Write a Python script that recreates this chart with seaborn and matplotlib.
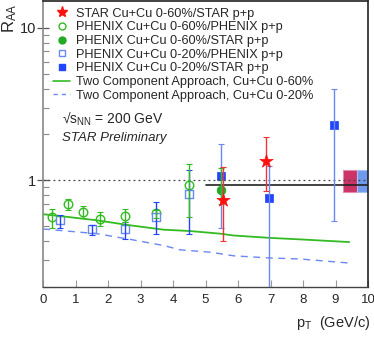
import matplotlib
matplotlib.use('Agg')
import matplotlib.pyplot as plt
import pandas as pd
import seaborn as sns
from matplotlib.lines import Line2D
from matplotlib.patches import Rectangle
from matplotlib.ticker import FixedLocator, NullFormatter

# PHENIX Cu+Cu 0-60% / PHENIX p+p (open circles)
ph60_pt = [0.27, 0.78, 1.24, 1.76, 2.51, 3.49, 4.49]
ph60_val = [0.575, 0.695, 0.62, 0.558, 0.58, 0.607, 0.93]
ph60_lo = [0.49, 0.64, 0.57, 0.50, 0.53, 0.57, 0.575]
ph60_hi = [0.65, 0.76, 0.68, 0.62, 0.645, 0.64, 1.28]

# PHENIX Cu+Cu 0-20% / PHENIX p+p (open squares)
ph20_pt = [0.52, 1.5, 2.51, 3.49, 4.49]
ph20_val = [0.55, 0.48, 0.48, 0.575, 0.815]
ph20_lo = [0.49, 0.44, 0.414, 0.447, 0.447]
ph20_hi = [0.596, 0.506, 0.533, 0.72, 1.17]

# STAR Cu+Cu 0-60% / STAR p+p (stars)
star_pt = [5.55, 6.85]
star_val = [0.74, 1.33]
star_lo = [0.40, 0.855]
star_hi = [1.22, 1.92]

# PHENIX Cu+Cu 0-60% / STAR p+p (filled circle)
ph60s_pt = [5.47]
ph60s_val = [0.86]
ph60s_lo = [0.70]
ph60s_hi = [1.21]

# PHENIX Cu+Cu 0-20% / STAR p+p (filled squares)
ph20s_pt = [5.47, 6.96, 8.95]
ph20s_val = [1.07, 0.77, 2.30]
ph20s_lo = [0.49, 0.10, 0.54]
ph20s_hi = [1.72, 1.25, 3.98]

# Two component approach curves
tc60_pt = [0, 0.63, 1.66, 2.69, 3.71, 4.54, 5.46, 5.87, 6.95, 7.93, 9.42]
tc60_val = [0.60, 0.58, 0.547, 0.507, 0.475, 0.465, 0.447, 0.435, 0.42, 0.41, 0.394]
tc20_pt = [0, 1.66, 2.69, 3.71, 4.23, 5.15, 5.87, 6.95, 7.93, 9.42]
tc20_val = [0.48, 0.447, 0.41, 0.374, 0.35, 0.338, 0.32, 0.31, 0.305, 0.287]

# scale uncertainties / reference line
ref_level = 0.935
ref_x = [5.0, 10.0]
box_lo, box_hi = 0.84, 1.17
box_red_x = [9.24, 9.66]
box_blue_x = [9.66, 10.0]

RED = '#ff1010'
GREEN = '#33bb22'
BLUE = '#2244ff'
LBLUE = '#6a88f0'

sns.set_theme(style='ticks')
plt.rcParams['font.family'] = ['Liberation Sans', 'DejaVu Sans']
plt.rcParams['mathtext.fontset'] = 'custom'
plt.rcParams['mathtext.rm'] = 'Liberation Sans'
plt.rcParams['mathtext.it'] = 'Liberation Sans:italic'

fig = plt.figure(figsize=(3.74, 3.38), dpi=100)
ax = fig.add_axes([0.115, 0.151, 0.869, 0.846])
ax.set_yscale('log')
ax.set_xlim(0, 10)
ax.set_ylim(0.2, 15)

# reference lines and boxes
ax.axhline(1.0, color='#444444', lw=0.9, ls=(0, (1.5, 2.5)))
ax.plot(ref_x, [ref_level, ref_level], color='#222222', lw=1.2)
ax.add_patch(Rectangle((box_red_x[0], box_lo), box_red_x[1] - box_red_x[0], box_hi - box_lo,
                       facecolor='#cc3366', edgecolor='#e88aa8', lw=0.8))
ax.add_patch(Rectangle((box_blue_x[0], box_lo), box_blue_x[1] - box_blue_x[0], box_hi - box_lo,
                       facecolor='#6f9af0', edgecolor='#a8c0f5', lw=0.8))

# curves
curves = pd.concat([
    pd.DataFrame({'pt': tc60_pt, 'raa': tc60_val, 'set': '60'}),
    pd.DataFrame({'pt': tc20_pt, 'raa': tc20_val, 'set': '20'}),
])
sns.lineplot(data=curves[curves['set'] == '60'], x='pt', y='raa', color=GREEN, lw=1.3, ax=ax)
sns.lineplot(data=curves[curves['set'] == '20'], x='pt', y='raa', color=LBLUE, lw=1.0, ax=ax,
             dashes=False, linestyle=(0, (5, 4)))


def err(ax, pt, val, lo, hi, color):
    yerr = [[v - l for v, l in zip(val, lo)], [h - v for v, h in zip(val, hi)]]
    ax.errorbar(pt, val, yerr=yerr, fmt='none', ecolor=color, elinewidth=1.0, capsize=2, capthick=0.8)


err(ax, ph20_pt, ph20_val, ph20_lo, ph20_hi, BLUE)
err(ax, ph60_pt, ph60_val, ph60_lo, ph60_hi, GREEN)
err(ax, ph20s_pt, ph20s_val, ph20s_lo, ph20s_hi, LBLUE)
err(ax, ph60s_pt, ph60s_val, ph60s_lo, ph60s_hi, GREEN)
err(ax, star_pt, star_val, star_lo, star_hi, '#ee3333')

sns.scatterplot(x=ph60_pt, y=ph60_val, marker='o', s=38, facecolor='white', edgecolor=GREEN, linewidth=1.0, ax=ax)
sns.scatterplot(x=ph20_pt, y=ph20_val, marker='s', s=38, facecolor='white', edgecolor=LBLUE, linewidth=1.0, ax=ax)
sns.scatterplot(x=ph60s_pt, y=ph60s_val, marker='o', s=40, color='#22aa22', edgecolor='#22aa22', ax=ax)
sns.scatterplot(x=ph20s_pt, y=ph20s_val, marker='s', s=40, color=BLUE, edgecolor=BLUE, ax=ax)
sns.scatterplot(x=star_pt, y=star_val, marker='*', s=100, color=RED, edgecolor=RED, linewidth=0.5, ax=ax, zorder=5)

# axes styling
for side in ['top', 'right']:
    ax.spines[side].set_color('#222222')
    ax.spines[side].set_linewidth(1.2)
ax.spines['left'].set_color('#888888')
ax.spines['bottom'].set_color('#444444')
ax.spines['left'].set_linewidth(1.2)
ax.spines['bottom'].set_linewidth(1.0)

ax.set_xticks(range(0, 11))
ax.tick_params(axis='x', direction='in', length=5, width=0.8, color='#999999', labelsize=9.5, pad=5)
ax.yaxis.set_major_locator(FixedLocator([1, 10]))
ax.set_yticklabels(['1', '10'])
ax.yaxis.set_minor_locator(FixedLocator([0.2, 0.3, 0.4, 0.5, 0.6, 0.7, 0.8, 0.9, 2, 3, 4, 5, 6, 7, 8, 9]))
ax.yaxis.set_minor_formatter(NullFormatter())
ax.tick_params(axis='y', which='major', direction='inout', length=8, width=0.9, color='#555555',
               labelsize=10.5, pad=1)
ax.tick_params(axis='y', which='minor', direction='in', length=4, width=0.8, color='#888888')
ax.set_xlabel('')
ax.set_ylabel('')

fig.text(0.99, 0.045, r'p$_{\mathrm{T}}$  (GeV/c)', ha='right', va='center', fontsize=10.5)
fig.text(0.027, 0.945, r'R$_{\mathrm{AA}}$', rotation=90, ha='center', va='center', fontsize=12)

ax.text(0.058, 0.588, r'√s$_{\mathrm{NN}}$ = 200 GeV', transform=ax.transAxes, fontsize=10, va='center')
ax.text(0.058, 0.522, 'STAR Preliminary', transform=ax.transAxes, fontsize=9.5, style='italic', va='center')

handles = [
    Line2D([], [], ls='none', marker='*', ms=8, color=RED),
    Line2D([], [], ls='none', marker='o', ms=5, mfc='white', mec=GREEN),
    Line2D([], [], ls='none', marker='o', ms=5, color='#22aa22'),
    Line2D([], [], ls='none', marker='s', ms=5, mfc='white', mec=LBLUE),
    Line2D([], [], ls='none', marker='s', ms=5, color=BLUE),
    Line2D([], [], color=GREEN, lw=1.2),
    Line2D([], [], color=LBLUE, lw=1.0, ls=(0, (3, 3))),
]
labels = [
    'STAR Cu+Cu 0-60%/STAR p+p',
    'PHENIX Cu+Cu 0-60%/PHENIX p+p',
    'PHENIX Cu+Cu 0-60%/STAR p+p',
    'PHENIX Cu+Cu 0-20%/PHENIX p+p',
    'PHENIX Cu+Cu 0-20%/STAR p+p',
    'Two Component Approach, Cu+Cu 0-60%',
    'Two Component Approach, Cu+Cu 0-20%',
]
ax.legend(handles, labels, loc='upper left', bbox_to_anchor=(0.02, 0.99), frameon=False, fontsize=9.2,
          handlelength=1.3, handletextpad=0.5, labelspacing=0.13, borderaxespad=0.1, borderpad=0.2)

fig.savefig('out.png', dpi=100)
